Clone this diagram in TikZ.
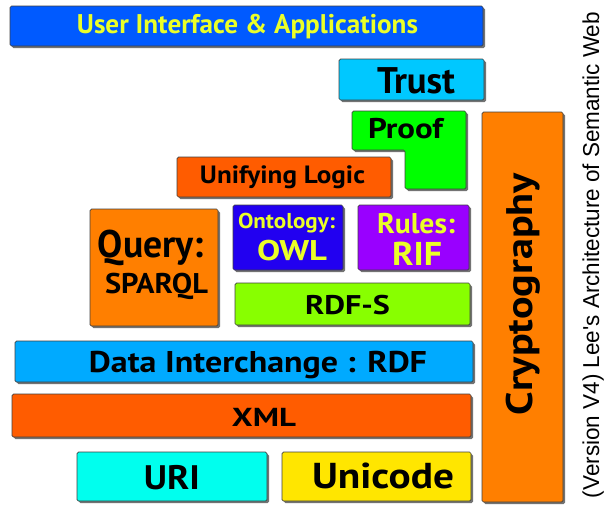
\documentclass[tikz,border=0pt]{standalone}
\usepackage{fontspec}
\usepackage{graphicx}
\setmainfont{PT Sans}
\newfontfamily\capfont{Liberation Sans}
\usetikzlibrary{shadows}
\definecolor{cUI}{RGB}{0,90,255}
\definecolor{cTrust}{RGB}{0,200,255}
\definecolor{cProof}{RGB}{0,255,0}
\definecolor{cCrypto}{RGB}{255,127,0}
\definecolor{cUnify}{RGB}{255,92,0}
\definecolor{cQuery}{RGB}{255,127,0}
\definecolor{cOnto}{RGB}{34,0,240}
\definecolor{cRules}{RGB}{153,0,255}
\definecolor{cRDFS}{RGB}{136,255,0}
\definecolor{cRDF}{RGB}{0,170,255}
\definecolor{cXML}{RGB}{255,92,0}
\definecolor{cURI}{RGB}{0,255,238}
\definecolor{cUni}{RGB}{255,230,0}
\definecolor{cYel}{RGB}{235,255,40}
\newcommand\fitt[3]{\resizebox{#1pt}{\height}{\fontsize{#2pt}{#2pt}\selectfont\bfseries #3}}
\tikzset{
  layer/.style={draw=black!75, line width=0.7pt, rounded corners=1.5pt,
    drop shadow={shadow xshift=2pt, shadow yshift=-2pt, fill=black, opacity=0.55}},
  lbl/.style={anchor=base, inner sep=0pt, outer sep=0pt, text=black},
  ylbl/.style={lbl, text=cYel},
}
\begin{document}
\begin{tikzpicture}[x=1pt,y=-1pt]
\useasboundingbox (0,0) rectangle (605,504);
% boxes
\path[layer, fill=cUI] (10,6) rectangle (483,46);
\path[layer, fill=cTrust] (339,59) rectangle (484,100);
\path[layer, fill=cProof] (352,111) -- (466,111) -- (466,189) -- (405,189) -- (405,150) -- (352,150) -- cycle;
\path[layer, fill=cCrypto] (482,112) rectangle (563,502);
\path[layer, fill=cUnify] (177,157) rectangle (391,197);
\path[layer, fill=cQuery] (90,209) rectangle (218,326);
\path[layer, fill=cOnto] (233,205) rectangle (343,270);
\path[layer, fill=cRules] (358,205) rectangle (469,270);
\path[layer, fill=cRDFS] (235,283) rectangle (470,325);
\path[layer, fill=cRDF] (15,341) rectangle (473,382);
\path[layer, fill=cXML] (12,394) rectangle (471,437);
\path[layer, fill=cURI] (77,452) rectangle (267,501);
\path[layer, fill=cUni] (282,452) rectangle (471,501);
% labels
\node[ylbl] (ui) at (247.5,33) {\fitt{341}{27}{User Interface \& Applications}};
\node[lbl] (trust) at (416,93) {\fitt{78}{37}{Trust}};
\node[lbl] (proof) at (405.5,138) {\fitt{75}{28.5}{Proof}};
\node[lbl] (unify) at (282.5,183) {\fitt{165}{25}{Unifying Logic}};
\node[lbl] (query) at (151,257) {\fitt{106}{38.5}{Query:}};
\node[lbl] (sparql) at (156.5,293) {\fitt{103}{28.5}{SPARQL}};
\node[ylbl] (onto) at (286.5,228) {\fitt{97}{21.5}{Ontology:}};
\node[ylbl] (owl) at (292,260) {\fitt{70}{28.5}{OWL}};
\node[ylbl] (rules) at (416,233) {\fitt{78}{28.5}{Rules:}};
\node[ylbl] (rif) at (417,265) {\fitt{50}{33}{RIF}};
\node[lbl] (rdfs) at (347.5,314) {\fitt{85}{27}{RDF-S}};
\node[lbl] (rdf) at (258,372) {\fitt{338}{30}{Data Interchange : RDF}};
\node[lbl] (xml) at (264,426) {\fitt{64}{26}{XML}};
\node[lbl] (uri) at (172,489) {\fitt{56}{34}{URI}};
\node[lbl] (uni) at (383,488) {\fitt{142}{36}{Unicode}};
\node[lbl, rotate=90] (crypto) at (532,294) {\fitt{242}{37}{Cryptography}};
\node[lbl, rotate=90] (cap) at (599,255) {\resizebox{486pt}{\height}{\capfont\fontsize{23pt}{23pt}\selectfont (Version V4) Lee's Architecture of Semantic Web}};
\end{tikzpicture}
\end{document}
